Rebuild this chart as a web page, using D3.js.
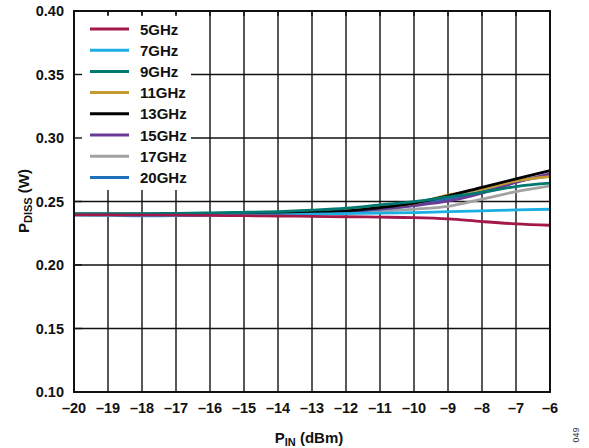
<!DOCTYPE html>
<html><head><meta charset="utf-8">
<script src="https://cdn.jsdelivr.net/npm/d3@7"></script>
<style>body{margin:0;background:#fff}svg{display:block}text{font-family:Arial,"Liberation Sans",sans-serif}</style>
</head><body><svg id="c" width="589" height="448"></svg>
<script>
const pin = [-20,-19,-18,-17,-16,-15,-14,-13,-12,-11,-10,-9,-8,-7,-6];
const xTicks = [-20,-19,-18,-17,-16,-15,-14,-13,-12,-11,-10,-9,-8,-7,-6];
const yTicks = [0.10,0.15,0.20,0.25,0.30,0.35,0.40];
const seriesNames = ["5GHz","7GHz","9GHz","11GHz","13GHz","15GHz","17GHz","20GHz"];
const seriesColors = ["#A3174B","#1BAEE3","#00776F","#C49A30","#000000","#6A3B96","#A2A2A2","#1D6FB7"];
const s5GHz  = [0.2395,0.2395,0.2392,0.2392,0.2390,0.2388,0.2386,0.2383,0.2380,0.2377,0.2373,0.2363,0.2342,0.2324,0.2313];
const s7GHz  = [0.2392,0.2390,0.2387,0.2388,0.2390,0.2392,0.2395,0.2400,0.2405,0.2409,0.2413,0.2420,0.2426,0.2434,0.2439];
const s9GHz  = [0.2405,0.2405,0.2405,0.2407,0.2410,0.2415,0.2421,0.2432,0.2447,0.2473,0.2499,0.2537,0.2572,0.2618,0.2644];
const s11GHz = [0.2400,0.2400,0.2400,0.2401,0.2403,0.2406,0.2410,0.2418,0.2430,0.2458,0.2486,0.2550,0.2597,0.2662,0.2696];
const s13GHz = [0.2400,0.2400,0.2400,0.2400,0.2402,0.2404,0.2408,0.2415,0.2426,0.2452,0.2488,0.2545,0.2612,0.2678,0.2743];
const s15GHz = [0.2398,0.2398,0.2398,0.2398,0.2400,0.2402,0.2406,0.2412,0.2422,0.2442,0.2468,0.2502,0.2565,0.2650,0.2717];
const s17GHz = [0.2396,0.2396,0.2396,0.2396,0.2398,0.2400,0.2402,0.2406,0.2413,0.2425,0.2440,0.2462,0.2518,0.2578,0.2623];
const s20GHz = [0.2398,0.2398,0.2398,0.2398,0.2400,0.2402,0.2405,0.2410,0.2420,0.2440,0.2470,0.2520,0.2578,0.2655,0.2704];
const seriesValues = [s5GHz,s7GHz,s9GHz,s11GHz,s13GHz,s15GHz,s17GHz,s20GHz];

const svg = d3.select("#c");
const L=74, R=550, T=11, B=392;
const x = d3.scaleLinear().domain([-20,-6]).range([L,R]);
const y = d3.scaleLinear().domain([0.10,0.40]).range([B,T]);
const fmtMinus = v => v<0 ? "\u2013"+Math.abs(v) : String(v);

// grid
const g = svg.append("g");
g.selectAll(".vg").data(xTicks).join("line")
  .attr("x1",d=>x(d)).attr("x2",d=>x(d)).attr("y1",T).attr("y2",B)
  .attr("stroke","#111").attr("stroke-width",1.4);
g.selectAll(".hg").data(yTicks).join("line")
  .attr("x1",L).attr("x2",R).attr("y1",d=>y(d)).attr("y2",d=>y(d))
  .attr("stroke","#111").attr("stroke-width",1.4);

// curves
const line = d3.line().x((d,i)=>x(pin[i])).y(d=>y(d)).curve(d3.curveMonotoneX);
const order = [6,7,5,3,4,2,1,0];
svg.append("g").selectAll("path").data(order).join("path")
  .attr("d",k=>line(seriesValues[k])).attr("fill","none")
  .attr("stroke",k=>seriesColors[k]).attr("stroke-width",2.8);

// legend box
svg.append("rect").attr("x",L+1).attr("y",15).attr("width",116).attr("height",175).attr("fill","#fff");
const lg = svg.append("g");
seriesNames.forEach((n,i)=>{
  const yy = 29 + i*21.2;
  lg.append("line").attr("x1",90).attr("x2",129).attr("y1",yy).attr("y2",yy)
    .attr("stroke",seriesColors[i]).attr("stroke-width",3);
  lg.append("text").attr("x",140).attr("y",yy+5.5).attr("font-size",15).attr("font-weight","bold")
    .attr("fill","#111").text(n);
});

// inner ticks
svg.append("g").selectAll("line").data(xTicks).join("line")
  .attr("x1",d=>x(d)).attr("x2",d=>x(d)).attr("y1",T).attr("y2",T+5)
  .attr("stroke","#111").attr("stroke-width",1.4);
svg.append("g").selectAll("line").data(yTicks).join("line")
  .attr("x1",L).attr("x2",L+8).attr("y1",d=>y(d)).attr("y2",d=>y(d))
  .attr("stroke","#111").attr("stroke-width",1.4);

// frame
svg.append("rect").attr("x",L).attr("y",T).attr("width",R-L).attr("height",B-T)
  .attr("fill","none").attr("stroke","#111").attr("stroke-width",2);

// axes labels
svg.append("g").selectAll("text").data(xTicks).join("text")
  .attr("x",d=>x(d)).attr("y",413).attr("text-anchor","middle")
  .attr("font-size",14.5).attr("font-weight","bold").attr("fill","#111").text(fmtMinus);
svg.append("g").selectAll("text").data(yTicks).join("text")
  .attr("x",64).attr("y",d=>y(d)+5).attr("text-anchor","end")
  .attr("font-size",14.5).attr("font-weight","bold").attr("fill","#111").text(d=>d3.format(".2f")(d));

const xt = svg.append("text").attr("x",309).attr("y",443).attr("text-anchor","middle")
  .attr("font-size",15).attr("font-weight","bold").attr("fill","#111");
xt.append("tspan").text("P");
xt.append("tspan").attr("font-size",11).attr("dy",3).text("IN");
xt.append("tspan").attr("dy",-3).text(" (dBm)");

const yt = svg.append("text").attr("transform","translate(29,201) rotate(-90)").attr("text-anchor","middle")
  .attr("font-size",15).attr("font-weight","bold").attr("fill","#111");
yt.append("tspan").text("P");
yt.append("tspan").attr("font-size",11).attr("dy",3).text("DISS");
yt.append("tspan").attr("dy",-3).text(" (W)");

svg.append("text").attr("transform","translate(579,435) rotate(-90)").attr("text-anchor","middle")
  .attr("font-size",9).attr("fill","#333").text("049");
</script></body></html>
